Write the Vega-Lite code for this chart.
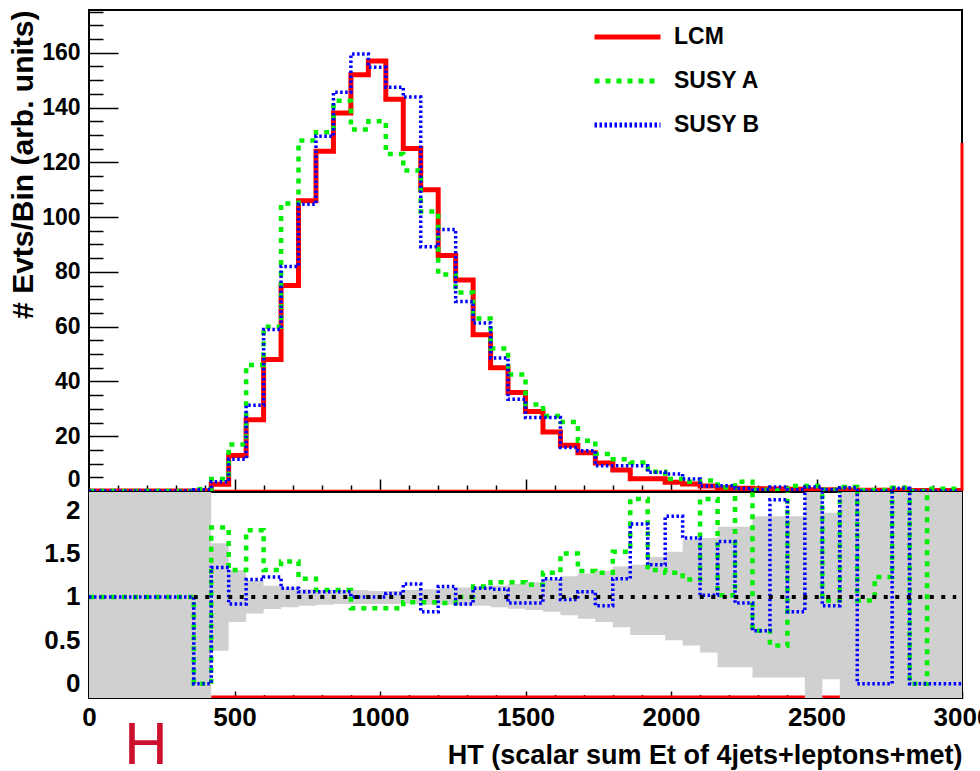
{
  "$schema": "https://vega.github.io/schema/vega-lite/v6.json",
  "autosize": {"type": "none"},
  "padding": {"left": 89, "top": 10, "right": 891, "bottom": 761},
  "background": "white",
  "bounds": "flush",
  "spacing": 1,
  "config": {
    "view": {"stroke": "black", "strokeWidth": 2},
    "axis": {
      "grid": false,
      "domain": false,
      "labelFont": "Liberation Sans",
      "labelFontWeight": "bold",
      "labelColor": "black",
      "titleFont": "Liberation Sans",
      "titleFontWeight": "bold",
      "titleColor": "black",
      "tickColor": "black",
      "tickWidth": 1.5,
      "labelFlush": false,
      "labelOverlap": false
    },
    "legend": {
      "labelFont": "Liberation Sans",
      "labelFontWeight": "bold",
      "labelColor": "black"
    }
  },
  "datasets": {
    "one": [{}],
    "hist": [
      {"x": 0, "LCM": 0, "SUSY A": 0, "SUSY B": 0},
      {"x": 60, "LCM": 0, "SUSY A": 0, "SUSY B": 0},
      {"x": 120, "LCM": 0, "SUSY A": 0, "SUSY B": 0},
      {"x": 180, "LCM": 0, "SUSY A": 0, "SUSY B": 0},
      {"x": 240, "LCM": 0, "SUSY A": 0, "SUSY B": 0},
      {"x": 300, "LCM": 0, "SUSY A": 0, "SUSY B": 0},
      {"x": 360, "LCM": 0, "SUSY A": 0.6, "SUSY B": 0.5},
      {"x": 420, "LCM": 2.5, "SUSY A": 4.4, "SUSY B": 3.4},
      {"x": 480, "LCM": 13, "SUSY A": 17, "SUSY B": 11.6},
      {"x": 540, "LCM": 26, "SUSY A": 46, "SUSY B": 31.3},
      {"x": 600, "LCM": 48, "SUSY A": 60, "SUSY B": 59},
      {"x": 660, "LCM": 75, "SUSY A": 105, "SUSY B": 82},
      {"x": 720, "LCM": 106, "SUSY A": 128, "SUSY B": 104.7},
      {"x": 780, "LCM": 124, "SUSY A": 131, "SUSY B": 129.5},
      {"x": 840, "LCM": 138, "SUSY A": 142.5, "SUSY B": 145.6},
      {"x": 900, "LCM": 152, "SUSY A": 132, "SUSY B": 159.5},
      {"x": 960, "LCM": 157, "SUSY A": 135, "SUSY B": 154.7},
      {"x": 1020, "LCM": 143, "SUSY A": 123, "SUSY B": 147.4},
      {"x": 1080, "LCM": 125, "SUSY A": 117, "SUSY B": 143.8},
      {"x": 1140, "LCM": 110, "SUSY A": 102, "SUSY B": 89.2},
      {"x": 1200, "LCM": 86, "SUSY A": 79, "SUSY B": 95.5},
      {"x": 1260, "LCM": 77, "SUSY A": 72.5, "SUSY B": 69.2},
      {"x": 1320, "LCM": 57, "SUSY A": 63, "SUSY B": 61.3},
      {"x": 1380, "LCM": 45, "SUSY A": 52, "SUSY B": 48.6},
      {"x": 1440, "LCM": 36, "SUSY A": 42.5, "SUSY B": 33.5},
      {"x": 1500, "LCM": 29, "SUSY A": 31.6, "SUSY B": 26.8},
      {"x": 1560, "LCM": 21.5, "SUSY A": 27.4, "SUSY B": 26.8},
      {"x": 1620, "LCM": 16.7, "SUSY A": 25.2, "SUSY B": 15.9},
      {"x": 1680, "LCM": 14, "SUSY A": 18.3, "SUSY B": 14.7},
      {"x": 1740, "LCM": 10.2, "SUSY A": 13.5, "SUSY B": 9.2},
      {"x": 1800, "LCM": 7.7, "SUSY A": 11.6, "SUSY B": 9.2},
      {"x": 1860, "LCM": 4.5, "SUSY A": 10.4, "SUSY B": 9.2},
      {"x": 1920, "LCM": 4.5, "SUSY A": 7, "SUSY B": 6.8},
      {"x": 1980, "LCM": 3.2, "SUSY A": 4.4, "SUSY B": 6.2},
      {"x": 2040, "LCM": 2.6, "SUSY A": 3.4, "SUSY B": 4.4},
      {"x": 2100, "LCM": 1.8, "SUSY A": 3.8, "SUSY B": 1.8},
      {"x": 2160, "LCM": 1.2, "SUSY A": 1.3, "SUSY B": 1.9},
      {"x": 2220, "LCM": 1.0, "SUSY A": 3.4, "SUSY B": 0.9},
      {"x": 2280, "LCM": 0.8, "SUSY A": 0.5, "SUSY B": 0.5},
      {"x": 2340, "LCM": 0.7, "SUSY A": 0.3, "SUSY B": 1.5},
      {"x": 2400, "LCM": 0.6, "SUSY A": 1.8, "SUSY B": 0.5},
      {"x": 2460, "LCM": 0.5, "SUSY A": 1.8, "SUSY B": 1.5},
      {"x": 2520, "LCM": 0.5, "SUSY A": 0.5, "SUSY B": 0.45},
      {"x": 2580, "LCM": 0.4, "SUSY A": 1.5, "SUSY B": 1.2},
      {"x": 2640, "LCM": 0.3, "SUSY A": 0.3, "SUSY B": 0},
      {"x": 2700, "LCM": 0.3, "SUSY A": 0.4, "SUSY B": 0},
      {"x": 2760, "LCM": 0.3, "SUSY A": 1.2, "SUSY B": 1.0},
      {"x": 2820, "LCM": 0.2, "SUSY A": 0, "SUSY B": 0},
      {"x": 2880, "LCM": 0.2, "SUSY A": 0.8, "SUSY B": 0},
      {"x": 2940, "LCM": 0.2, "SUSY A": 0.8, "SUSY B": 0},
      {"x": 3000, "LCM": 0.2, "SUSY A": 0.8, "SUSY B": 0}
    ],
    "ratio": [
      {"x": 0, "susyA": 1, "susyB": 1, "lo": -1, "hi": 3},
      {"x": 60, "susyA": 1, "susyB": 1, "lo": -1, "hi": 3},
      {"x": 120, "susyA": 1, "susyB": 1, "lo": -1, "hi": 3},
      {"x": 180, "susyA": 1, "susyB": 1, "lo": -1, "hi": 3},
      {"x": 240, "susyA": 1, "susyB": 1, "lo": -1, "hi": 3},
      {"x": 300, "susyA": 1, "susyB": 1, "lo": -1, "hi": 3},
      {"x": 360, "susyA": 0, "susyB": 0, "lo": -1, "hi": 3},
      {"x": 420, "susyA": 1.80, "susyB": 1.34, "lo": 0.38, "hi": 1.62},
      {"x": 480, "susyA": 1.31, "susyB": 0.92, "lo": 0.71, "hi": 1.31},
      {"x": 540, "susyA": 1.77, "susyB": 1.20, "lo": 0.81, "hi": 1.19},
      {"x": 600, "susyA": 1.31, "susyB": 1.23, "lo": 0.86, "hi": 1.13},
      {"x": 660, "susyA": 1.41, "susyB": 1.10, "lo": 0.88, "hi": 1.11},
      {"x": 720, "susyA": 1.21, "susyB": 1.06, "lo": 0.90, "hi": 1.09},
      {"x": 780, "susyA": 1.08, "susyB": 1.06, "lo": 0.91, "hi": 1.08},
      {"x": 840, "susyA": 1.08, "susyB": 1.06, "lo": 0.92, "hi": 1.08},
      {"x": 900, "susyA": 0.87, "susyB": 1.00, "lo": 0.92, "hi": 1.08},
      {"x": 960, "susyA": 0.87, "susyB": 1.00, "lo": 0.92, "hi": 1.07},
      {"x": 1020, "susyA": 0.87, "susyB": 1.04, "lo": 0.92, "hi": 1.07},
      {"x": 1080, "susyA": 0.94, "susyB": 1.15, "lo": 0.92, "hi": 1.08},
      {"x": 1140, "susyA": 0.94, "susyB": 0.83, "lo": 0.91, "hi": 1.09},
      {"x": 1200, "susyA": 0.93, "susyB": 1.12, "lo": 0.91, "hi": 1.10},
      {"x": 1260, "susyA": 1.00, "susyB": 0.92, "lo": 0.90, "hi": 1.11},
      {"x": 1320, "susyA": 1.12, "susyB": 1.10, "lo": 0.90, "hi": 1.12},
      {"x": 1380, "susyA": 1.17, "susyB": 1.09, "lo": 0.88, "hi": 1.13},
      {"x": 1440, "susyA": 1.17, "susyB": 0.93, "lo": 0.865, "hi": 1.15},
      {"x": 1500, "susyA": 1.14, "susyB": 0.93, "lo": 0.85, "hi": 1.17},
      {"x": 1560, "susyA": 1.28, "susyB": 1.21, "lo": 0.83, "hi": 1.20},
      {"x": 1620, "susyA": 1.50, "susyB": 0.97, "lo": 0.79, "hi": 1.24},
      {"x": 1680, "susyA": 1.30, "susyB": 1.06, "lo": 0.75, "hi": 1.27},
      {"x": 1740, "susyA": 1.28, "susyB": 0.90, "lo": 0.71, "hi": 1.30},
      {"x": 1800, "susyA": 1.52, "susyB": 1.21, "lo": 0.65, "hi": 1.35},
      {"x": 1860, "susyA": 2.13, "susyB": 1.84, "lo": 0.56, "hi": 1.37},
      {"x": 1920, "susyA": 1.31, "susyB": 1.37, "lo": 0.56, "hi": 1.46},
      {"x": 1980, "susyA": 1.28, "susyB": 1.93, "lo": 0.50, "hi": 1.52},
      {"x": 2040, "susyA": 1.20, "susyB": 1.68, "lo": 0.44, "hi": 1.66},
      {"x": 2100, "susyA": 2.13, "susyB": 1.02, "lo": 0.36, "hi": 1.68},
      {"x": 2160, "susyA": 1.02, "susyB": 1.64, "lo": 0.19, "hi": 1.81},
      {"x": 2220, "susyA": 2.5, "susyB": 0.93, "lo": 0.19, "hi": 1.81},
      {"x": 2280, "susyA": 0.61, "susyB": 0.61, "lo": 0.07, "hi": 1.93},
      {"x": 2340, "susyA": 0.44, "susyB": 2.12, "lo": 0.07, "hi": 1.93},
      {"x": 2400, "susyA": 2.5, "susyB": 0.83, "lo": 0.07, "hi": 1.93},
      {"x": 2460, "susyA": 2.5, "susyB": 2.5, "lo": -1, "hi": 3},
      {"x": 2520, "susyA": 0.96, "susyB": 0.90, "lo": 0.05, "hi": 1.97},
      {"x": 2580, "susyA": 2.5, "susyB": 2.5, "lo": -1, "hi": 3},
      {"x": 2640, "susyA": 0.96, "susyB": 0, "lo": -1, "hi": 3},
      {"x": 2700, "susyA": 1.23, "susyB": 0, "lo": -1, "hi": 3},
      {"x": 2760, "susyA": 2.5, "susyB": 2.5, "lo": -1, "hi": 3},
      {"x": 2820, "susyA": 0, "susyB": 0, "lo": -1, "hi": 3},
      {"x": 2880, "susyA": 2.5, "susyB": 0, "lo": -1, "hi": 3},
      {"x": 2940, "susyA": 2.5, "susyB": 0, "lo": -1, "hi": 3},
      {"x": 3000, "susyA": 2.5, "susyB": 0, "lo": -1, "hi": 3}
    ]
  },
  "vconcat": [
    {
      "width": 873,
      "height": 481,
      "layer": [
        {
          "data": {"name": "one"},
          "mark": {"type": "rule", "color": "#ff0000", "strokeWidth": 2.5},
          "encoding": {
            "x": {"datum": 0, "type": "quantitative", "scale": {"domain": [0, 3000], "nice": false, "zero": false},
              "axis": {"orient": "bottom", "values": [100,200,300,400,600,700,800,900,1100,1200,1300,1400,1600,1700,1800,1900,2100,2200,2300,2400,2600,2700,2800,2900], "tickSize": -6, "labels": false, "title": null}},
            "x2": {"datum": 3000},
            "y": {"datum": 0, "type": "quantitative", "scale": {"domain": [0, 175.6], "nice": false, "zero": false},
              "axis": {"orient": "left", "values": [5,10,15,25,30,35,45,50,55,65,70,75,85,90,95,105,110,115,125,130,135,145,150,155,165,170,175], "tickSize": -14, "labels": false, "title": null}}
          }
        },
        {
          "data": {"name": "hist"},
          "transform": [
            {"fold": ["LCM", "SUSY A", "SUSY B"], "as": ["series", "value"]},
            {"filter": "datum.series === 'LCM'"}
          ],
          "mark": {"type": "line", "interpolate": "step-after", "strokeWidth": 5, "clip": true},
          "encoding": {
            "x": {"field": "x", "type": "quantitative",
              "axis": {"orient": "bottom", "values": [500, 1000, 1500, 2000, 2500], "tickSize": -12, "labels": false, "title": null}},
            "y": {"field": "value", "type": "quantitative",
              "axis": {"orient": "left", "values": [0, 20, 40, 60, 80, 100, 120, 140, 160], "tickSize": -29, "labelPadding": 38, "labelFontSize": 23, "labelFlush": true, "labelFlushOffset": 0,
                "title": "# Evts/Bin (arb. units)", "titleFontSize": 30, "titleAngle": 270, "titleAlign": "right", "titleBaseline": "alphabetic", "titleX": -57, "titleY": 0}},
            "color": {"field": "series", "type": "nominal",
              "scale": {"domain": ["LCM", "SUSY A", "SUSY B"], "range": ["#ff0000", "#00ee00", "#0000ff"]},
              "legend": {"orient": "none", "legendX": 503, "legendY": 16, "title": null, "symbolType": "stroke", "symbolSize": 4356, "symbolStrokeWidth": 5, "clipHeight": 22, "rowPadding": 21, "labelOffset": 11, "labelFontSize": 23, "padding": 0, "symbolOffset": 0}},
            "strokeDash": {"field": "series", "type": "nominal",
              "scale": {"domain": ["LCM", "SUSY A", "SUSY B"], "range": [[1, 0], [5, 6], [2.5, 2.5]]},
              "legend": {"orient": "none", "legendX": 503, "legendY": 16, "title": null, "symbolType": "stroke", "symbolSize": 4356, "symbolStrokeWidth": 5, "clipHeight": 22, "rowPadding": 21, "labelOffset": 11, "labelFontSize": 23, "padding": 0, "symbolOffset": 0}}
          }
        },
        {
          "data": {"name": "hist"},
          "transform": [
            {"fold": ["LCM", "SUSY A", "SUSY B"], "as": ["series", "value"]},
            {"filter": "datum.series === 'SUSY A'"}
          ],
          "mark": {"type": "line", "interpolate": "step-after", "strokeWidth": 4.5, "clip": true},
          "encoding": {
            "x": {"field": "x", "type": "quantitative", "axis": null},
            "y": {"field": "value", "type": "quantitative", "axis": null},
            "color": {"field": "series", "type": "nominal"},
            "strokeDash": {"field": "series", "type": "nominal"}
          }
        },
        {
          "data": {"name": "hist"},
          "transform": [
            {"fold": ["LCM", "SUSY A", "SUSY B"], "as": ["series", "value"]},
            {"filter": "datum.series === 'SUSY B'"}
          ],
          "mark": {"type": "line", "interpolate": "step-after", "strokeWidth": 3.5, "clip": true},
          "encoding": {
            "x": {"field": "x", "type": "quantitative", "axis": null},
            "y": {"field": "value", "type": "quantitative", "axis": null},
            "color": {"field": "series", "type": "nominal"},
            "strokeDash": {"field": "series", "type": "nominal"}
          }
        },
        {
          "data": {"name": "one"},
          "mark": {"type": "rule", "color": "#ff0000", "strokeWidth": 3},
          "encoding": {
            "x": {"datum": 3000, "type": "quantitative", "axis": null},
            "y": {"datum": 0, "type": "quantitative", "axis": null},
            "y2": {"datum": 127}
          }
        }
      ],
      "resolve": {"axis": {"x": "independent", "y": "independent"}}
    },
    {
      "width": 873,
      "height": 206,
      "layer": [
        {
          "data": {"name": "one"},
          "mark": {"type": "rule", "color": "#ff0000", "strokeWidth": 2.5},
          "encoding": {
            "x": {"datum": 420, "type": "quantitative", "scale": {"domain": [0, 3000], "nice": false, "zero": false},
              "axis": {"orient": "bottom", "values": [100,200,300,400,600,700,800,900,1100,1200,1300,1400,1600,1700,1800,1900,2100,2200,2300,2400,2600,2700,2800,2900], "tickSize": -3.5, "labels": false, "title": null}},
            "x2": {"datum": 3000},
            "y": {"datum": -0.15, "type": "quantitative", "scale": {"domain": [-0.165, 2.21], "nice": false, "zero": false}, "axis": null}
          }
        },
        {
          "data": {"name": "ratio"},
          "mark": {"type": "area", "interpolate": "step-after", "color": "#d0d0d0", "clip": true},
          "encoding": {
            "x": {"field": "x", "type": "quantitative",
              "axis": {"orient": "bottom", "values": [0, 500, 1000, 1500, 2000, 2500, 3000], "format": "d", "tickSize": -7, "labelPadding": 13, "labelFontSize": 26,
                "title": "HT (scalar sum Et of 4jets+leptons+met)", "titleFontSize": 27, "titleAlign": "right", "titleBaseline": "alphabetic", "titleX": 873, "titleY": 65}},
            "y": {"field": "lo", "type": "quantitative",
              "axis": {"orient": "left", "values": [0, 0.5, 1, 1.5, 2], "format": "~g", "tickSize": -8, "labelPadding": 17, "labelFontSize": 26, "title": null}},
            "y2": {"field": "hi"}
          }
        },
        {
          "data": {"name": "ratio"},
          "mark": {"type": "line", "interpolate": "step-after", "color": "#00ee00", "strokeWidth": 4.5, "strokeDash": [5, 6], "clip": true},
          "encoding": {
            "x": {"field": "x", "type": "quantitative", "axis": null},
            "y": {"field": "susyA", "type": "quantitative", "axis": null}
          }
        },
        {
          "data": {"name": "ratio"},
          "mark": {"type": "line", "interpolate": "step-after", "color": "#0000ff", "strokeWidth": 3.5, "strokeDash": [2.5, 2.5], "clip": true},
          "encoding": {
            "x": {"field": "x", "type": "quantitative", "axis": null},
            "y": {"field": "susyB", "type": "quantitative", "axis": null}
          }
        },
        {
          "data": {"name": "one"},
          "mark": {"type": "rule", "color": "black", "strokeWidth": 4, "strokeDash": [4, 7.5]},
          "encoding": {
            "x": {"datum": 360, "type": "quantitative", "axis": null},
            "x2": {"datum": 2980},
            "y": {"datum": 1, "type": "quantitative", "axis": null}
          }
        },
        {
          "data": {"name": "one"},
          "mark": {"type": "text", "text": "H", "font": "Liberation Sans", "fontSize": 60, "color": "#cc102e", "align": "center", "baseline": "alphabetic", "clip": false},
          "encoding": {
            "x": {"datum": 196, "type": "quantitative", "axis": null},
            "y": {"datum": -0.93, "type": "quantitative", "axis": null}
          }
        }
      ],
      "resolve": {"axis": {"x": "independent", "y": "independent"}}
    }
  ]
}
